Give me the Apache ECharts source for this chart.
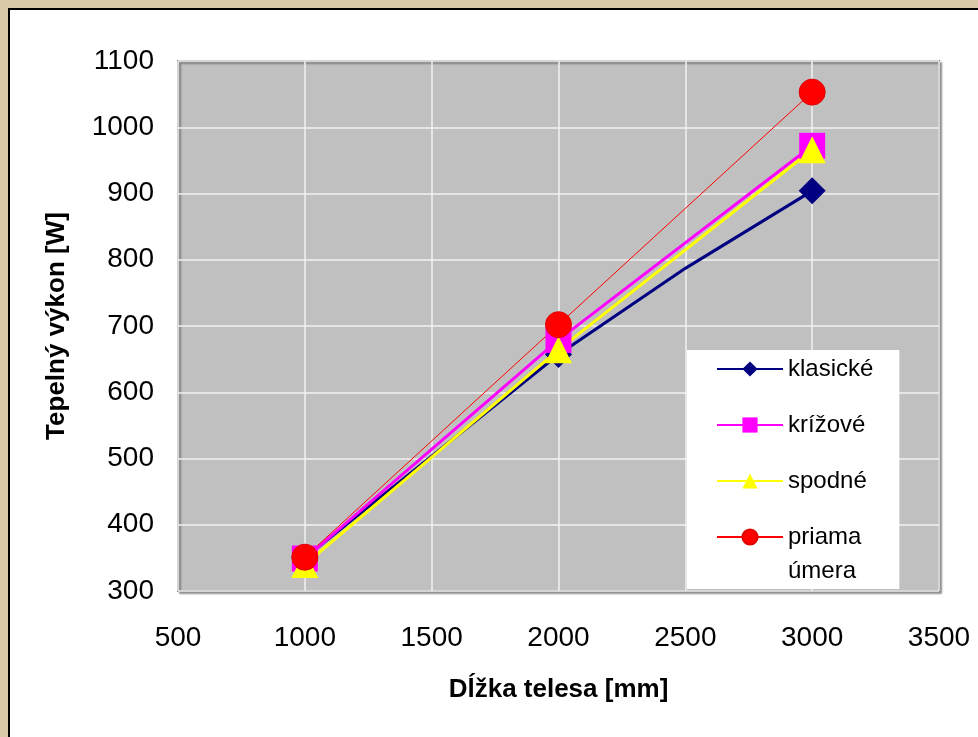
<!DOCTYPE html>
<html>
<head>
<meta charset="utf-8">
<script src="https://cdn.jsdelivr.net/npm/echarts@6/dist/echarts.min.js"></script>
<style>
  html, body { margin: 0; padding: 0; }
  #main { width: 978px; height: 737px; }
</style>
</head>
<body>
<div id="main"></div>
<script>
// dĺžka telesa [mm]
var lengths = [1000, 2000, 3000];
var lengthsKlasicke = [1000, 2000, 2500, 3000];

// tepelný výkon [W]
var klasicke = [350, 657, 787, 904];
var krizove = [349, 679, 972];
var spodne = [340, 664, 966];
var priamaUmera = [351, 702, 1053];

var seriesNames = ['klasické', 'krížové', 'spodné', 'priama úmera'];

function pairs(xs, ys, noMarkAt) {
  return xs.map(function (x, i) {
    if (x === noMarkAt) {
      return { value: [x, ys[i]], symbol: 'none' };
    }
    return [x, ys[i]];
  });
}

function plain(v) {
  return String(v);
}

var chart = echarts.init(document.getElementById('main'), null, { renderer: 'canvas' });

var labelFont = 'Arial, "Liberation Sans", sans-serif';

var option = {
  backgroundColor: '#D8C9A9',
  animation: false,
  textStyle: { fontFamily: labelFont },
  graphic: [
    {
      type: 'rect',
      z: -100,
      shape: { x: 9, y: 9, width: 1000, height: 1000 },
      style: { fill: '#ffffff', stroke: '#000000', lineWidth: 2 }
    },
    {
      type: 'text',
      left: 788,
      top: 559,
      z: 100,
      style: { text: 'úmera', fill: '#000000', font: '24px Arial, "Liberation Sans", sans-serif' }
    }
  ],
  grid: {
    show: true,
    left: 178,
    top: 61,
    right: 39,
    bottom: 146,
    backgroundColor: '#C0C0C0',
    borderColor: '#808080',
    borderWidth: 2,
    shadowColor: 'rgba(0,0,0,0.35)',
    shadowOffsetX: 2,
    shadowOffsetY: 2,
    shadowBlur: 2
  },
  legend: {
    orient: 'vertical',
    left: 687,
    top: 350,
    backgroundColor: '#ffffff',
    padding: [3, 26, 36, 29],
    itemWidth: 66,
    itemHeight: 19,
    itemGap: 24,
    selectedMode: false,
    textStyle: { fontSize: 24, color: '#000000', lineHeight: 32, fontFamily: labelFont },
    formatter: function (name) {
      return name === 'priama úmera' ? 'priama' : name;
    },
    data: seriesNames
  },
  xAxis: {
    type: 'value',
    min: 500,
    max: 3500,
    interval: 500,
    name: 'Dĺžka telesa [mm]',
    nameLocation: 'middle',
    nameGap: 86,
    nameTextStyle: { fontSize: 26, fontWeight: 'bold', color: '#000000', fontFamily: labelFont },
    axisLine: { show: false },
    axisTick: { show: false },
    axisLabel: { fontSize: 28, color: '#000000', margin: 33, fontFamily: labelFont, formatter: plain },
    splitLine: { show: true, lineStyle: { color: '#F2F2F2', width: 1.5 } }
  },
  yAxis: {
    type: 'value',
    min: 300,
    max: 1100,
    interval: 100,
    name: 'Tepelný výkon [W]',
    nameLocation: 'middle',
    nameRotate: 90,
    nameGap: 108,
    nameTextStyle: { fontSize: 26, fontWeight: 'bold', color: '#000000', fontFamily: labelFont },
    axisLine: { show: false },
    axisTick: { show: false },
    axisLabel: { fontSize: 28, color: '#000000', margin: 24, fontFamily: labelFont, formatter: plain },
    splitLine: { show: true, lineStyle: { color: '#F2F2F2', width: 1.5 } }
  },
  series: [
    {
      name: 'klasické',
      type: 'line',
      data: pairs(lengthsKlasicke, klasicke, 2500),
      symbol: 'diamond',
      symbolSize: 27,
      lineStyle: { color: '#000080', width: 3 },
      itemStyle: { color: '#000080' }
    },
    {
      name: 'krížové',
      type: 'line',
      data: pairs(lengths, krizove),
      symbol: 'rect',
      symbolSize: 26,
      lineStyle: { color: '#FF00FF', width: 3 },
      itemStyle: { color: '#FF00FF' }
    },
    {
      name: 'spodné',
      type: 'line',
      data: pairs(lengths, spodne),
      symbol: 'triangle',
      symbolSize: 27,
      lineStyle: { color: '#FFFF00', width: 3 },
      itemStyle: { color: '#FFFF00' }
    },
    {
      name: 'priama úmera',
      type: 'line',
      data: pairs(lengths, priamaUmera),
      symbol: 'circle',
      symbolSize: 26,
      lineStyle: { color: '#FF0000', width: 1 },
      itemStyle: { color: '#FF0000', borderColor: '#E00000', borderWidth: 1 }
    }
  ]
};

chart.setOption(option);
</script>
</body>
</html>
